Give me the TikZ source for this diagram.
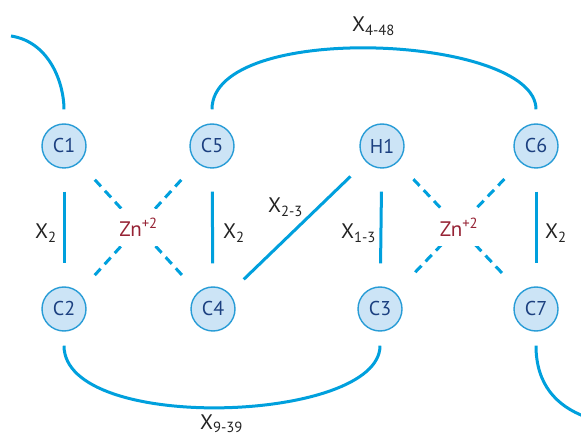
\documentclass[tikz,border=0pt]{standalone}
\usepackage{fontspec}
\setmainfont{PT Sans}
\definecolor{bondblue}{RGB}{0,160,221}
\definecolor{resfill}{RGB}{204,228,246}
\definecolor{resdraw}{RGB}{40,156,214}
\definecolor{restext}{RGB}{28,64,128}
\definecolor{znred}{RGB}{150,34,52}
\definecolor{labgray}{RGB}{35,35,35}
\begin{document}
\begin{tikzpicture}[x=1pt, y=1pt,
        res/.style={circle, draw=resdraw, fill=resfill, line width=1.4pt, minimum size=44pt, inner sep=0pt, text=restext, font=\fontsize{20}{24}\selectfont},
        bond/.style={draw=bondblue, line width=3pt, shorten <=23pt, shorten >=23pt},
        loopbond/.style={draw=bondblue, line width=3pt},
        zincbond/.style={bond, dash pattern=on 9pt off 6pt},
        lab/.style={anchor=base west, text=labgray, inner sep=0pt, font=\fontsize{21}{24}\selectfont},
        zinc/.style={fill=white, text=znred, inner xsep=3pt, inner ysep=10pt, font=\fontsize{21}{24}\selectfont}]
        \useasboundingbox (0,0) rectangle (581,434);
        \clip (0,0) rectangle (581,434);
        \foreach \n/\x/\y in {C1/64/288, C5/212/288, H1/382/288, C6/536/288, C2/64/125, C4/213/125, C3/380/125, C7/536/125}
            \node[res] (\n) at (\x,\y) {\n};
        \coordinate (lfree) at (11,398);
        \coordinate (rfree) at (586,17);
        % loops
        \draw[loopbond] (lfree) .. controls (50,392) and (64,350) .. ([yshift=14pt]C1.north);
        \draw[loopbond] ([yshift=14pt]C5.north) .. controls (212,414) and (536,399) .. ([yshift=14pt]C6.north);
        \draw[loopbond] ([yshift=-14pt]C2.south) .. controls (64,0) and (380,11) .. ([yshift=-14pt]C3.south);
        \draw[loopbond] ([yshift=-14pt]C7.south) .. controls (536,50) and (556,28) .. (rfree);
        % bonds
        \draw[bond] (C1) -- (C2);
        \draw[bond] (C5) -- (C4);
        \draw[bond] (H1) -- (C3);
        \draw[bond] (C6) -- (C7);
        \draw[bond, shorten <=20pt, shorten >=21pt] (C4) -- (H1);
        % zinc
        \draw[zincbond] (C1) -- (C4);
        \draw[zincbond] (C5) -- (C2);
        \draw[zincbond] (H1) -- (C7);
        \draw[zincbond] (C6) -- (C3);
        \path (C1) -- (C4) node[zinc, midway] (zn1) {Zn\textsuperscript{+2}};
        \path (H1) -- (C7) node[zinc, midway] (zn2) {Zn\textsuperscript{+2}};
        % labels
        \node[lab] (x2a) at (35,195) {X\textsubscript{2}};
        \node[lab] (x2b) at (223,195) {X\textsubscript{2}};
        \node[lab] (x13) at (341,195) {X\textsubscript{1-3}};
        \node[lab] (x2c) at (545,195) {X\textsubscript{2}};
        \node[lab] (x23) at (268,221) {X\textsubscript{2-3}};
        \node[lab] (x448) at (352,402) {X\textsubscript{4-48}};
        \node[lab] (x939) at (200,5) {X\textsubscript{9-39}};
\end{tikzpicture}
\end{document}
